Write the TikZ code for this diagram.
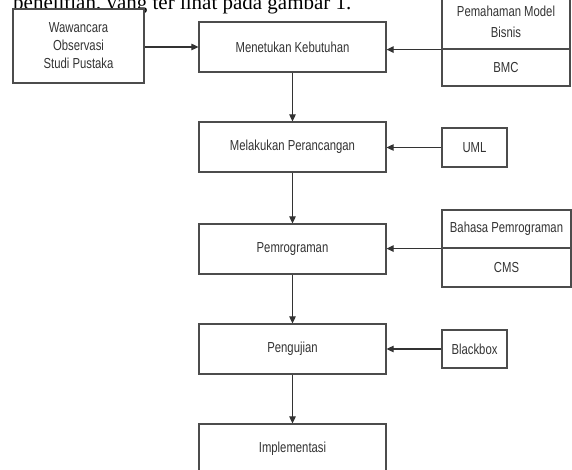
\documentclass[tikz,border=0pt]{standalone}
\usepackage{fontspec}
\setmainfont{Liberation Serif}
\newfontfamily\boxfont[FakeStretch=0.78]{Liberation Sans}
\usetikzlibrary{arrows.meta}
\begin{document}
\begin{tikzpicture}[x=1pt,y=-1pt,
  box/.style={draw=black!70, line width=1.2pt, inner sep=0pt, fill=white,
    font=\boxfont\fontsize{14.5}{18}\selectfont, text=black!80, align=center},
  mainbox/.style={box, minimum width=187pt, minimum height=50pt},
  arr/.style={draw=black!80, line width=1.1pt, -{Triangle[length=7pt,width=6.5pt]}}]
\useasboundingbox (0,0) rectangle (572,470);
\clip (0,0) rectangle (572,470);
\fill[white] (0,0) rectangle (572,470);
\node[anchor=base west, inner sep=0pt, font=\fontsize{21}{24}\selectfont] (cap) at (13,10) {penelitian, yang ter lihat pada gambar 1.};
% main column
\node[mainbox] (m1) at (292.5,47) {Menetukan Kebutuhan};
\node[mainbox] (m2) at (292.5,147) {Melakukan Perancangan};
\node[mainbox] (m3) at (292.5,249) {Pemrograman};
\node[mainbox] (m4) at (292.5,349) {Pengujian};
\node[mainbox] (m5) at (292.5,449) {Implementasi};
% side boxes
\node[box, minimum width=131pt, minimum height=74pt] (w) at (78.5,46) {Wawancara\\Observasi\\Studi Pustaka};
\node[box, minimum width=128pt, minimum height=55pt, font=\boxfont\fontsize{14.5}{21}\selectfont] (pa) at (506,21.5) {Pemahaman Model\\Bisnis};
\node[box, minimum width=128pt, minimum height=37pt] (pb) at (506,67.5) {BMC};
\node[box, minimum width=65pt, minimum height=39pt] (uml) at (474.5,147.5) {UML};
\node[box, minimum width=129pt, minimum height=38pt] (ba) at (506.5,229) {Bahasa Pemrograman};
\node[box, minimum width=129pt, minimum height=39pt] (bb) at (506.5,267.5) {CMS};
\node[box, minimum width=65pt, minimum height=38pt] (bl) at (474.5,349) {Blackbox};
% connectors
\draw[arr] (w.east |- m1.west) -- (m1.west);
\draw[arr] (pa.south west) -- (pa.south west -| m1.east);
\draw[arr] (uml.west) -- (uml.west -| m2.east);
\draw[arr] (ba.south west) -- (ba.south west -| m3.east);
\draw[arr] (bl.west) -- (bl.west -| m4.east);
\draw[arr] (m1) -- (m2);
\draw[arr] (m2) -- (m3);
\draw[arr] (m3) -- (m4);
\draw[arr] (m4) -- (m5);
\end{tikzpicture}
\end{document}
